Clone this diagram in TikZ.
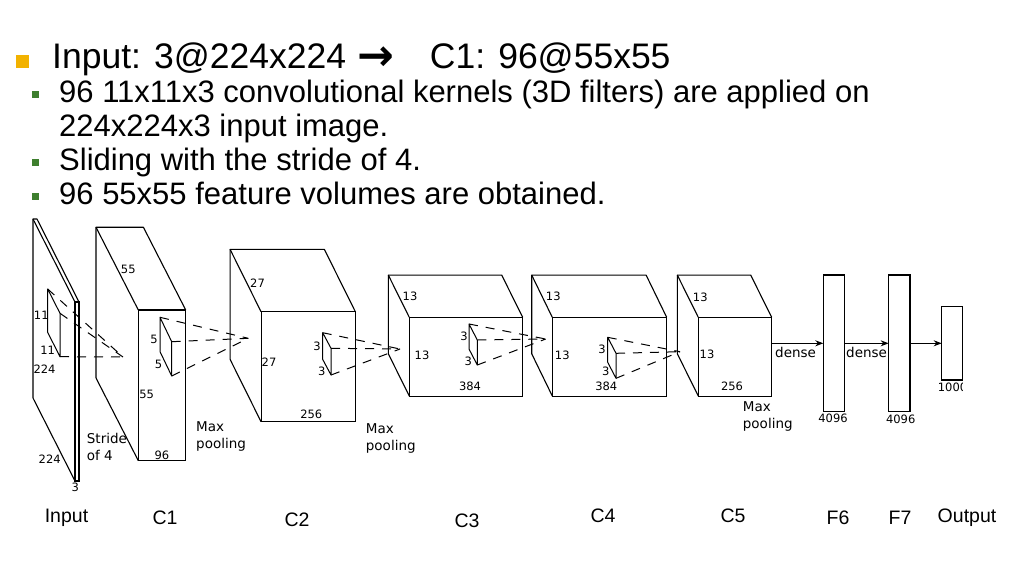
\documentclass[tikz,border=0pt]{standalone}
\usepackage{fontspec}
\setmainfont{Liberation Sans}
\newfontfamily\figfont{DejaVu Sans}
\usepackage{xcolor}
\usetikzlibrary{arrows.meta, positioning}
\definecolor{puceorange}{HTML}{F2B200}
\definecolor{pucevert}{HTML}{3E7F2E}

\begin{document}
\begin{tikzpicture}[
        % Repère en pixels (y vers le bas)
        x=1pt, y=-1pt,
        % Styles du texte de la diapositive
        titre/.style = {anchor=base west, inner sep=0pt, font=\fontsize{35.5}{40}\selectfont},
        ligne/.style = {anchor=base west, inner sep=0pt, font=\fontsize{31}{34}\selectfont},
        % Faces avant des couches
        face/.style = {
            rectangle,
            draw,
            line width=1.1pt,
            inner sep=0pt,
            outer sep=0pt
        },
        % Arêtes de profondeur
        arete/.style = {line width=1.1pt, line join=round},
        % Noyaux de convolution et projections
        noyau/.style = {line width=1pt, line join=round},
        pointille/.style = {line width=1pt, dash pattern=on 9pt off 8pt},
        % Étiquettes de la figure
        cote/.style = {font=\figfont\fontsize{11.5}{12}\selectfont, inner sep=0pt},
        note/.style = {font=\figfont\fontsize{13.5}{17}\selectfont, align=left, anchor=north west, inner sep=0pt},
        mot/.style = {font=\figfont\fontsize{13.5}{17}\selectfont, anchor=base west, inner sep=0pt},
        nom/.style = {font=\fontsize{19.5}{22}\selectfont, inner sep=0pt},
        % Style des flèches
        fleche/.style = {
            -{Stealth[length=8pt, width=6pt]},
            line width=1.1pt
        }
    ]

        \fill[white] (0,0) rectangle (1017,563);
        \useasboundingbox (0,0) rectangle (1017,563);

        % 1. Texte de la diapositive
        \node[fill=puceorange, minimum size=13pt, inner sep=0pt] (p0) at (22.7,61.8) {};
        \node[titre] (titre) at (52,68.5) {Input: 3@224x224 \hspace{1pt}{\figfont\bfseries\fontsize{44}{44}\selectfont\raisebox{-2pt}{→}}\hspace{36pt}C1: 96@55x55};
        \foreach \i/\y in {1/94.3, 3/162.3, 4/196.7}
            \node[fill=pucevert, minimum size=6.7pt, inner sep=0pt] (p\i) at (35.7,\y) {};
        \node[ligne] (l1) at (59,102.5) {96 11x11x3 convolutional kernels (3D filters) are applied on};
        \node[ligne] (l2) at (59,136.5) {224x224x3 input image.};
        \node[ligne] (l3) at (59,170.5) {Sliding with the stride of 4.};
        \node[ligne] (l4) at (59,204.5) {96 55x55 feature volumes are obtained.};

        % 2. Faces avant des couches
        \node[face, minimum width=4pt,     minimum height=179pt]   (entree) at (77,391.5) {};
        \node[face, minimum width=47.4pt,  minimum height=150.7pt] (c1)     at (162,385.3) {};
        \node[face, minimum width=94.3pt,  minimum height=110pt]   (c2)     at (308.2,366.7) {};
        \node[face, minimum width=113.4pt, minimum height=78.7pt]  (c3)     at (466,356.7) {};
        \node[face, minimum width=114.4pt, minimum height=78.7pt]  (c4)     at (609.5,356.7) {};
        \node[face, minimum width=73.4pt,  minimum height=78.7pt]  (c5)     at (735,356.7) {};
        \node[face, minimum width=21pt,    minimum height=136.7pt] (f6)     at (833.8,343.3) {};
        \node[face, minimum width=21.3pt,  minimum height=136.7pt] (f7)     at (899.3,343.3) {};
        \node[face, minimum width=21pt,    minimum height=73.3pt]  (sortie) at (952.2,343.3) {};

        % 3. Profondeur des volumes
        \foreach \n/\dx/\dy in {entree/-42/-83, c1/-42.3/-82.7, c2/-31/-62.4,
                                c3/-21/-42.3, c4/-20.6/-42.3, c5/-21/-42.3} {
            \draw[arete] ([shift={(\dx,\dy)}]\n.south west) -- ([shift={(\dx,\dy)}]\n.north west)
                -- ([shift={(\dx,\dy)}]\n.north east) -- (\n.north east);
            \draw[arete] (\n.north west) -- ++(\dx,\dy);
            \draw[arete] (\n.south west) -- ++(\dx,\dy);
        }

        % 4. Noyaux et projections en pointillés
        \foreach \nm/\x/\y/\dx/\dy/\h in {k0/60/313.3/12.3/24.3/43.4, k1/171.7/341.7/11.7/24.4/34.3,
                                          k2/331/348.3/8.3/15.6/26.7, k3/477.3/340/8.3/16/25,
                                          k4/616/353.3/8.3/16/25} {
            \coordinate (\nm f) at (\x,\y);
            \path (\nm f) ++(-\dx,-\dy) coordinate (\nm t);
            \path (\nm f) ++(0,\h) coordinate (\nm b);
            \draw[noyau] (\nm t) -- (\nm f) -- (\nm b) -- ++(-\dx,-\dy) -- cycle;
        }
        \coordinate (a0) at (123,357);
        \coordinate (a1) at (248.3,338.3);
        \coordinate (a2) at (400,349);
        \coordinate (a3) at (545.7,339);
        \coordinate (a4) at (680,351.7);
        \foreach \i in {0,...,4}
            \draw[pointille] (k\i t) -- (a\i) (k\i f) -- (a\i) (k\i b) -- (a\i);

        % 5. Couches denses
        \draw[fleche] (c5.east |- f6.west) -- (f6.west);
        \draw[fleche] (f6.east) -- (f7.west);
        \draw[fleche] (f7.east) -- (sortie.west);

        % 6. Cotes
        \node[cote] (e-a) at (41.3,315) {11};
        \node[cote] (e-b) at (47.7,350.5) {11};
        \node[cote] (e-c) at (44.5,369) {224};
        \node[cote] (e-d) at (49.7,459) {224};
        \node[cote] (e-e) at (75.3,487.5) {3};
        \node[cote] (c1-a) at (128.3,269.5) {55};
        \node[cote] (c1-b) at (146.7,394) {55};
        \node[cote] (c1-c) at (162,455.5) {96};
        \node[cote] (c1-d) at (154,339) {5};
        \node[cote] (c1-e) at (158.5,364) {5};
        \node[cote] (c2-a) at (257.5,283) {27};
        \node[cote] (c2-b) at (269,362.3) {27};
        \node[cote] (c2-c) at (311.3,414.5) {256};
        \node[cote] (c2-d) at (317,346) {3};
        \node[cote] (c2-e) at (321.7,371) {3};
        \node[cote] (c3-a) at (410,296.7) {13};
        \node[cote] (c3-b) at (422,355.7) {13};
        \node[cote] (c3-c) at (470,386.7) {384};
        \node[cote] (c3-d) at (464,336.7) {3};
        \node[cote] (c3-e) at (468.3,361.7) {3};
        \node[cote] (c4-a) at (553.3,296.7) {13};
        \node[cote] (c4-b) at (562.3,355.7) {13};
        \node[cote] (c4-c) at (606.3,386.7) {384};
        \node[cote] (c4-d) at (602,349.3) {3};
        \node[cote] (c4-e) at (605.7,371.7) {3};
        \node[cote] (c5-a) at (700.3,297.7) {13};
        \node[cote] (c5-b) at (707,354.3) {13};
        \node[cote] (c5-c) at (732,386.7) {256};
        \node[cote] (f6-a) at (833,418.3) {4096};
        \node[cote] (f7-a) at (900.7,419) {4096};
        \begin{scope}
            \clip (925,378) rectangle (962.7,398);
            \node[cote] (s-a) at (952.5,387) {1000};
        \end{scope}

        % 7. Annotations
        \node[note] (pas)   at (86.7,433.5) {Stride\\of 4};
        \node[note] (pool1) at (196,421.5) {Max\\pooling};
        \node[note] (pool2) at (365.7,423) {Max\\pooling};
        \node[note] (pool5) at (742.7,401.5) {Max\\pooling};
        \node[mot] (dense1) at (775,357.3) {dense};
        \node[mot] (dense2) at (846,357.3) {dense};

        % 8. Noms des couches
        \node[nom] (n0) at (66.5,518) {Input};
        \node[nom] (n1) at (165,518) {C1};
        \node[nom] (n2) at (297,520) {C2};
        \node[nom] (n3) at (467,521) {C3};
        \node[nom] (n4) at (603,516) {C4};
        \node[nom] (n5) at (733,516) {C5};
        \node[nom] (n6) at (838,518) {F6};
        \node[nom] (n7) at (900,518) {F7};
        \node[nom] (n8) at (967,518) {Output};

    \end{tikzpicture}
\end{document}
